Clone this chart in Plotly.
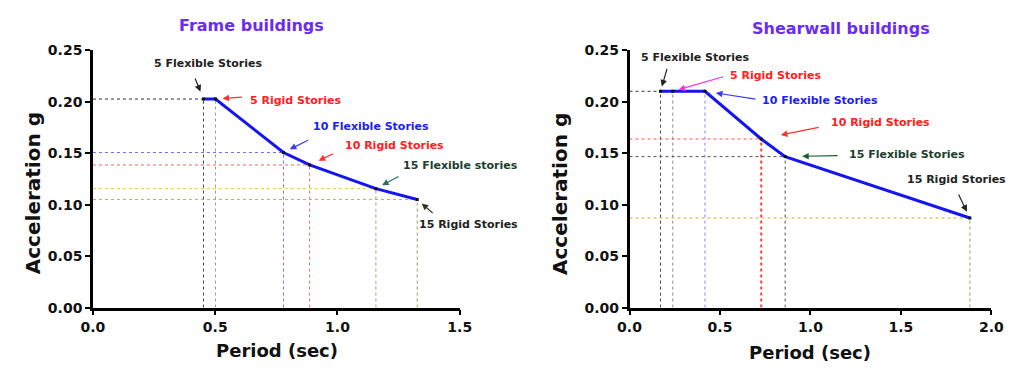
import plotly.graph_objects as go

# Frame buildings: period (s) and spectral acceleration (g)
frame_labels = ["5 Flexible Stories", "5 Rigid Stories", "10 Flexible Stories",
                "10 Rigid Stories", "15 Flexible stories", "15 Rigid Stories"]
frame_period = [0.452, 0.501, 0.779, 0.886, 1.157, 1.326]
frame_accel = [0.2025, 0.2025, 0.1506, 0.1385, 0.1155, 0.1050]

# Shearwall buildings
wall_labels = ["5 Flexible Stories", "5 Rigid Stories", "10 Flexible Stories",
               "10 Rigid Stories", "15 Flexible Stories", "15 Rigid Stories"]
wall_period = [0.171, 0.239, 0.417, 0.728, 0.860, 1.881]
wall_accel = [0.210, 0.210, 0.210, 0.1637, 0.1466, 0.087]

x_ticks_frame = [0.0, 0.5, 1.0, 1.5]
x_ticks_wall = [0.0, 0.5, 1.0, 1.5, 2.0]
y_ticks = [0.00, 0.05, 0.10, 0.15, 0.20, 0.25]

FONT = "DejaVu Sans, Verdana, sans-serif"
LINE_BLUE = "#1515f0"
TITLE_VIOLET = "#6a2cf2"

# Per-point styling: (horizontal guide colour, vertical guide colour,
#  vertical guide width, label colour, arrow colour,
#  arrow tail dx, dy, standoff, label dx, dy)
frame_style = [
    ("#333333", "#444444", 1, "#222222", "#222222", -9, -22, 8, 5, -36),
    (None, "#999999", 1, "#ff2020", "#ff3030", 28, -2, 7, 80, 1),
    ("#7070ff", "#7070ff", 1, "#2020ee", "#3a3aee", 26, -13, 7, 88, -26),
    ("#ff6060", "#ff6060", 1, "#ff2020", "#ff3030", 25, -12, 10, 85, -19),
    ("#d0d040", "#a0a070", 1, "#1d3d2d", "#2f6f60", 24, -13, 7, 85, -23),
    ("#b8b830", "#9a9a60", 1, "#222222", "#333322", 17, 15, 6, 51, 25),
]
wall_style = [
    ("#333333", "#444444", 1, "#222222", "#222222", 7, -24, 5, 35, -34),
    (None, "#888888", 1, "#ff2020", "#ff30e0", 52, -15, 6, 103, -16),
    (None, "#8080ff", 1, "#2020ee", "#3a3aee", 52, 8, 11, 115, 9),
    ("#ff5050", "#ff4040", 2, "#ff2020", "#ff3030", 59, -12, 20, 119, -17),
    ("#555555", "#555555", 1, "#1d3d2d", "#1d5d2d", 54, -1, 17, 122, -2),
    ("#b8b830", "#9a9a60", 1, "#222222", "#222222", -12, -25, 7, -13, -38),
]

fig = go.Figure()
annotations = []


def add_panel(periods, accels, labels, styles, xa, ya):
    # dotted guide lines to the axes
    for t, a, st in zip(periods, accels, styles):
        hcol, vcol, vw = st[0], st[1], st[2]
        if hcol:
            fig.add_trace(go.Scatter(x=[0, t], y=[a, a], mode="lines",
                                     line=dict(color=hcol, width=1, dash="dot"),
                                     xaxis=xa, yaxis=ya, hoverinfo="skip",
                                     showlegend=False))
        fig.add_trace(go.Scatter(x=[t, t], y=[0, a], mode="lines",
                                 line=dict(color=vcol, width=vw, dash="dot"),
                                 xaxis=xa, yaxis=ya, hoverinfo="skip",
                                 showlegend=False))
    # spectrum curve
    fig.add_trace(go.Scatter(x=periods, y=accels, mode="lines+markers",
                             line=dict(color=LINE_BLUE, width=3),
                             marker=dict(color="#111111", size=3, symbol="square"),
                             xaxis=xa, yaxis=ya, hoverinfo="skip",
                             showlegend=False))
    # arrows and labels
    for t, a, lab, st in zip(periods, accels, labels, styles):
        _, _, _, tcol, acol, adx, ady, so, ldx, ldy = st
        annotations.append(dict(
            x=t, y=a, xref=xa, yref=ya, text="", showarrow=True,
            ax=adx, ay=ady, axref="pixel", ayref="pixel",
            arrowhead=2, arrowsize=1.1, arrowwidth=1.2, arrowcolor=acol,
            standoff=so))
        annotations.append(dict(
            x=t, y=a, xref=xa, yref=ya, text=lab, showarrow=False,
            xshift=ldx, yshift=-ldy, xanchor="center", yanchor="middle",
            font=dict(family=FONT, size=11, color=tcol, weight="bold")))


add_panel(frame_period, frame_accel, frame_labels, frame_style, "x", "y")
add_panel(wall_period, wall_accel, wall_labels, wall_style, "x2", "y2")

axis_common = dict(
    showline=True, linecolor="black", linewidth=2.5, mirror=False,
    ticks="outside", ticklen=5, tickwidth=2, tickcolor="black",
    showgrid=False, zeroline=False,
    tickfont=dict(family=FONT, size=14, color="#111111", weight="bold"),
)

y_top = 1 - 44 / 374
y_bot = 1 - 313 / 374

fig.update_layout(
    width=1022, height=374,
    margin=dict(l=0, r=0, t=0, b=0),
    paper_bgcolor="white", plot_bgcolor="white",
    xaxis=dict(domain=[83 / 1022, 459 / 1022], range=[0, 1.5],
               tickvals=x_ticks_frame, tickformat=".1f", anchor="y", **axis_common),
    yaxis=dict(domain=[y_bot, y_top], range=[0, 0.25],
               tickvals=y_ticks, tickformat=".2f", anchor="x", **axis_common),
    xaxis2=dict(domain=[633 / 1022, 1004 / 1022], range=[0, 2.0],
                tickvals=x_ticks_wall, tickformat=".1f", anchor="y2", **axis_common),
    yaxis2=dict(domain=[y_bot, y_top], range=[0, 0.25],
                tickvals=y_ticks, tickformat=".2f", anchor="x2", **axis_common),
)

# panel titles and axis titles
text_items = [
    ("Frame buildings", 246, 18, 16, TITLE_VIOLET, 0),
    ("Shearwall buildings", 850, 21, 16, TITLE_VIOLET, 0),
    ("Period (sec)", 272, 358, 18, "#111111", 0),
    ("Period (sec)", 818, 360, 18, "#111111", 0),
    ("Acceleration g", 21, 193, 20, "#111111", -90),
    ("Acceleration g", 561, 194, 20, "#111111", -90),
]
for txt, px, py, fs, col, ang in text_items:
    annotations.append(dict(
        x=px / 1022, y=1 - py / 374, xref="paper", yref="paper",
        text=txt, showarrow=False, xanchor="center", yanchor="middle",
        textangle=ang,
        font=dict(family=FONT, size=fs, color=col, weight="bold")))

fig.update_layout(annotations=annotations)
fig.write_html("out.html")
